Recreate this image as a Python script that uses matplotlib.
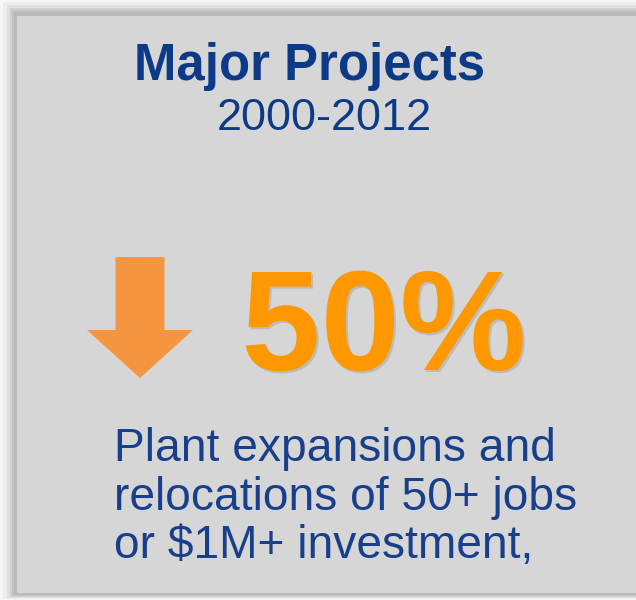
import matplotlib
matplotlib.use('Agg')
import matplotlib.pyplot as plt
import matplotlib.patheffects as pe
from matplotlib.patches import Rectangle, Polygon

plt.rcParams['font.family'] = ['Liberation Sans', 'DejaVu Sans']

# Card content
title = 'Major Projects'
period = '2000-2012'
change_pct = 50
change_dir = 'down'
body_lines = ['Plant expansions and',
              'relocations of 50+ jobs',
              'or $1M+ investment,']

W, H = 636, 600
navy = '#0d3a87'
body_blue = '#173f8c'
orange = '#ff9700'
arrow_orange = '#f5953f'
card_grey = '#d6d6d6'

fig = plt.figure(figsize=(W / 100, H / 100), dpi=100)
fig.patch.set_facecolor('#f6f6f6')
ax = fig.add_axes([0, 0, 1, 1])
ax.set_xlim(0, W)
ax.set_ylim(H, 0)
ax.axis('off')

# soft drop shadow around the card, outermost layer first
shadow = [(3, 2, 599, '#ededed'), (7, 5, 598, '#e0e0e0'), (10, 8, 597, '#d0d0d0'),
          (12, 10, 596, '#c2c2c2'), (14, 12, 595, '#b9b9b9')]
for x0, y0, y1, col in shadow:
    ax.add_patch(Rectangle((x0, y0), W + 10, y1 - y0, facecolor=col, edgecolor='none'))
ax.add_patch(Rectangle((17, 16), W + 10, 577, facecolor=card_grey, edgecolor='none'))

# heading
ax.text(310, 80, title, ha='center', va='baseline', fontsize=36.6,
        fontweight='bold', color=navy)
ax.text(324, 130, period, ha='center', va='baseline', fontsize=32.5, color=navy)

# direction arrow
cx, top, head_y, tip_y = 140, 257, 330, 378
shaft_w, head_w = 49, 106
if change_dir == 'down':
    pts = [(cx - shaft_w / 2, top), (cx + shaft_w / 2, top), (cx + shaft_w / 2, head_y),
           (cx + head_w / 2, head_y), (cx, tip_y), (cx - head_w / 2, head_y),
           (cx - shaft_w / 2, head_y)]
    ax.add_patch(Polygon(pts, closed=True, facecolor=arrow_orange, edgecolor='none'))

# headline figure
big = ax.text(384, 370, f'{change_pct}%', ha='center', va='baseline', fontsize=102.5,
              fontweight='bold', color=orange)
big.set_path_effects([pe.withSimplePatchShadow(offset=(1.5, -1.5), shadow_rgbFace='#808080',
                                               alpha=0.3)])

# description
for y, line in zip([461, 510, 558], body_lines):
    ax.text(114, y, line, ha='left', va='baseline', fontsize=33.2, color=body_blue)

fig.savefig('out.png', dpi=100, facecolor=fig.get_facecolor())
